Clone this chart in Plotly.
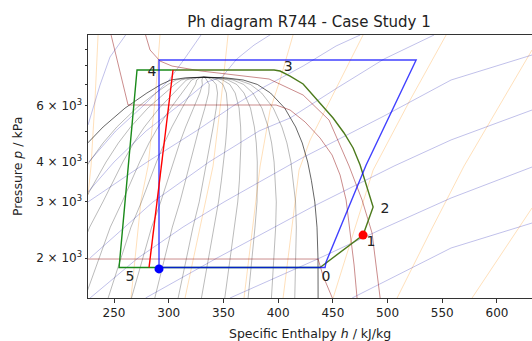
import plotly.graph_objects as go

# ---------------- data (h in kJ/kg, p in kPa) ----------------
sat_p = [1500, 2000, 2500, 3000, 3500, 4000, 4590, 5150, 5900, 6580, 7000, 7230, 7340, 7377]
sat_hl = [138, 156, 171, 187, 200, 212, 226, 240, 260, 280, 293, 302, 315, 332]
sat_hv = [436.5, 436.4, 435.5, 433.5, 430.4, 427, 422, 416, 406, 393, 381, 368, 352, 332]
quality_levels = [k / 14 for k in range(1, 14)]

# isotherms (dark red)
iso_T_h = [
    [200, 436.5, 441, 449.5],
    [247.3, 262.8, 398.1, 410.9, 424.6, 438.3, 449.3, 456.6, 462.1, 465.7, 469.4, 472.1],
    [278.3, 282.9, 292, 303, 329.5, 361.5, 391.7, 422.8, 446.5, 464.8, 476.7, 485.8, 493.2],
]
iso_T_p = [
    [1987, 1987, 1760, 1500],
    [10000, 6035, 6035, 5821, 5340, 4756, 4207, 3642, 3041, 2449, 1903, 1500],
    [10145, 8975, 8288, 7994, 7713, 7494, 7280, 6486, 5415, 3887, 3041, 2398, 1500],
]

# isochores (blue)
iso_D_h = [
    [467.6, 496.8, 558, 632],
    [356, 436.5, 496.8, 558, 632],
    [278.8, 344.2, 431, 506, 558, 632],
    [228.1, 271.9, 313.1, 350.6, 384.4, 421.9, 496.8, 558, 632],
    [228.1, 285.6, 336.8, 382.5, 410.9, 453.8, 496.8, 542.5],
    [226.2, 280.2, 325, 358.8, 387.1, 422.8, 452.9, 474.9],
    [226.2, 235, 250, 279.3, 308.5, 335, 348.7, 362, 378, 395.3],
    [226.9, 251.5, 276.5, 300.3, 314.9, 329.5],
    [226.2, 237.2, 246.3, 261.9],
]
iso_D_p = [
    [1500, 1684, 2151, 2576],
    [1500, 1990, 2485, 3085, 3858],
    [1500, 2002, 2892, 3887, 4691, 5821],
    [1500, 2002, 2503, 2999, 3487, 4119, 5576, 7227, 8657],
    [2002, 2999, 4000, 5003, 5495, 6822, 8410, 10000],
    [2999, 4000, 5003, 5992, 6872, 7994, 9236, 10000],
    [3223, 3487, 4000, 5003, 5992, 7124, 7385, 8400, 9300, 10145],
    [4000, 5003, 5992, 7227, 8472, 10000],
    [5224, 6971, 8532, 10145],
]

# isentropes (orange)
iso_S_h = [
    [226.2, 229, 232.6, 235.4],
    [265.5, 274.7, 281.1, 287.5, 292],
    [314.9, 340.5, 347.8, 354.2],
    [368.8, 383.5, 392.6, 401.7, 413.6],
    [404.5, 419.1, 429.2, 447.4, 477.6],
    [450.2, 486.8, 520.6, 553.5],
    [508.7, 538.9, 569.9, 601, 632],
    [577.2, 604.7, 632],
]
iso_S_p = [
    [3153, 3887, 6257, 10000],
    [1500, 3041, 3887, 6257, 10000],
    [1500, 3887, 6257, 10000],
    [1500, 3887, 5821, 7227, 10000],
    [1500, 3776, 4691, 6257, 10000],
    [1500, 3776, 6257, 10000],
    [1500, 2415, 3887, 5906, 8975],
    [1500, 2075, 2871],
]

# cycle lines
green_h = [302.1, 271.0, 254.6, 438.3]
green_p = [7770, 7770, 1870, 1870]
olive_h = [438.3, 477.6, 486.8, 480.4, 474.9, 468.5, 460.2, 450.2, 438.3, 422.8, 410.9, 401.7, 396.3, 302.1]
olive_p = [1870, 2362, 2892, 3389, 3915, 4426, 4932, 5495, 6124, 7023, 7438, 7713, 7770, 7770]
blue_h = [291.1, 291.1, 526.1, 496.8, 480.4, 443.8, 442.9, 291.1]
blue_p = [1870, 8350, 8350, 5113, 3915, 1945, 1870, 1870]
red_h = [282.0, 303.9]
red_p = [1870, 7770]
dot_red = (477.6, 2362)
dot_blue = (291.1, 1850)

point_labels = ["0", "1", "2", "3", "4", "5"]
label_h = [443.8, 484.9, 497.7, 409.1, 284.7, 264.6]
label_p = [1745, 2246, 2850, 7936, 7603, 1745]

x_ticks = [250, 300, 350, 400, 450, 500, 550, 600]
y_ticks = [2000, 3000, 4000, 6000]
y_ticktext = ["2 × 10<sup>3</sup>", "3 × 10<sup>3</sup>", "4 × 10<sup>3</sup>", "6 × 10<sup>3</sup>"]
y_minor_ticks = [5000, 7000, 8000, 9000]

# ---------------- figure ----------------
fig = go.Figure()

def add_line(h, p, color, width):
    fig.add_trace(go.Scatter(x=h, y=p, mode="lines", line=dict(color=color, width=width),
                             hoverinfo="skip", showlegend=False))

for h, p in zip(iso_S_h, iso_S_p):
    add_line(h, p, "rgba(255,140,0,0.3)", 0.9)
for h, p in zip(iso_D_h, iso_D_p):
    add_line(h, p, "rgba(0,0,170,0.28)", 0.9)

# quality lines from the saturation data
for q in quality_levels:
    qh = [hl + q * (hv - hl) for hl, hv in zip(sat_hl, sat_hv)]
    add_line(qh, sat_p, "rgba(0,0,0,0.3)", 0.9)

# saturation dome
add_line(sat_hl + sat_hv[::-1], sat_p + sat_p[::-1], "rgba(0,0,0,0.6)", 1.0)

for h, p in zip(iso_T_h, iso_T_p):
    add_line(h, p, "rgba(139,0,0,0.45)", 1.0)

add_line(green_h, green_p, "#1a8a1a", 1.4)
add_line(olive_h, olive_p, "#4c7a1c", 1.4)
add_line(blue_h, blue_p, "rgba(0,0,255,0.75)", 1.4)
add_line(red_h, red_p, "#ff0000", 1.4)

fig.add_trace(go.Scatter(x=[dot_red[0]], y=[dot_red[1]], mode="markers",
                         marker=dict(color="#ff0000", size=9), showlegend=False, cliponaxis=False))
fig.add_trace(go.Scatter(x=[dot_blue[0]], y=[dot_blue[1]], mode="markers",
                         marker=dict(color="#0000ff", size=9), showlegend=False, cliponaxis=False))
fig.add_trace(go.Scatter(x=label_h, y=label_p, mode="text", text=point_labels,
                         textfont=dict(family="DejaVu Sans", size=14, color="#222"),
                         showlegend=False, cliponaxis=False))

tick_font = dict(family="DejaVu Sans", size=12, color="#222")
fig.update_layout(
    width=532, height=341,
    margin=dict(l=88, r=0, t=35, b=43, autoexpand=False),
    paper_bgcolor="white", plot_bgcolor="white",
    font=tick_font,
    title=dict(text="Ph diagram R744 - Case Study 1", x=309 / 532, xanchor="center",
               xref="container", y=1 - 22 / 341, yref="container", yanchor="middle",
               font=dict(family="DejaVu Sans", size=15, color="#222")),
    xaxis=dict(range=[226.2, 632], tickvals=x_ticks, ticks="outside", ticklen=3.5, tickcolor="#333",
               showline=True, linecolor="#333", linewidth=1, mirror=True, showgrid=False,
               zeroline=False, automargin=False, tickfont=tick_font),
    yaxis=dict(type="log", range=[3.17609, 4.0], tickvals=y_ticks, ticktext=y_ticktext,
               ticks="outside", ticklen=2.5, tickcolor="#333", showline=True, linecolor="#333",
               linewidth=1, mirror=False, showgrid=False, zeroline=False, automargin=False,
               minor=dict(tickvals=y_minor_ticks, ticks="outside", ticklen=2.5, tickcolor="#333",
                          showgrid=False),
               tickfont=tick_font),
    annotations=[
        dict(text="Specific Enthalpy <i>h</i> / kJ/kg", xref="paper", yref="paper",
             x=(310 - 88) / 444, y=-(333 - 298) / 263, xanchor="center", yanchor="middle",
             showarrow=False, font=dict(family="DejaVu Sans", size=12.5, color="#222")),
        dict(text="Pressure <i>p</i> / kPa", xref="paper", yref="paper",
             x=-(88 - 17) / 444, y=(298 - 167) / 263, xanchor="center", yanchor="middle",
             textangle=-90, showarrow=False, font=dict(family="DejaVu Sans", size=12.5, color="#222")),
    ],
)

fig.write_html("out.html", config={"displayModeBar": False},
               post_script="document.body.style.margin='0';document.body.style.overflow='hidden';")
